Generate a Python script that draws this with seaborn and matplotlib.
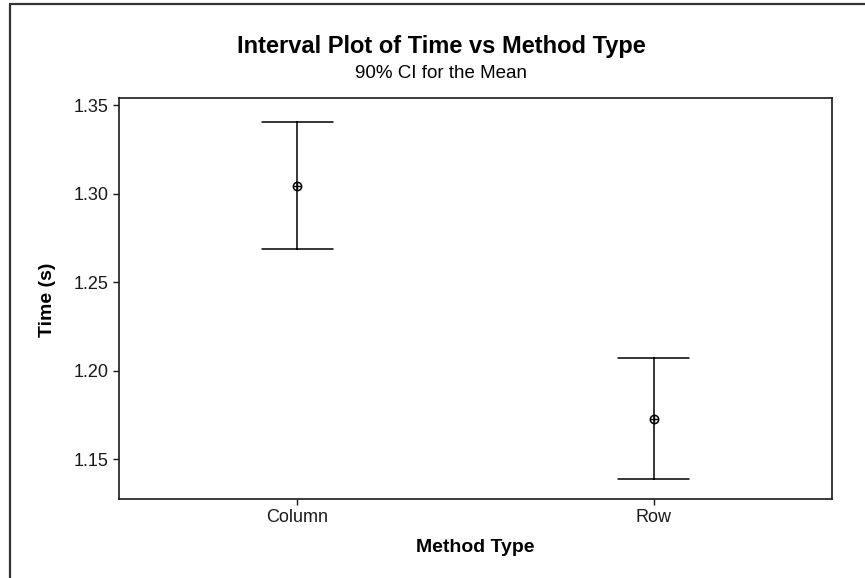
import matplotlib
matplotlib.use("Agg")
import matplotlib.pyplot as plt
from matplotlib.lines import Line2D
import seaborn as sns
import pandas as pd

# ---- data ----
methods = ["Column", "Row"]
means = [1.3045, 1.1725]
ci_lower = [1.2685, 1.1385]
ci_upper = [1.3405, 1.2070]
yticks = [1.15, 1.20, 1.25, 1.30, 1.35]

title = "Interval Plot of Time vs Method Type"
subtitle = "90% CI for the Mean"
xlabel = "Method Type"
ylabel = "Time (s)"

# long-form table: lower bound, mean, upper bound for each group
rows = []
for m, lo, mu, hi in zip(methods, ci_lower, means, ci_upper):
    for v in (lo, mu, hi):
        rows.append({"Method Type": m, "Time": v})
df = pd.DataFrame(rows)

sns.set_theme(style="white")
plt.rcParams["font.family"] = ["Liberation Sans", "DejaVu Sans"]

W, H = 865, 578
fig = plt.figure(figsize=(W / 100, H / 100), dpi=100)
fig.patch.set_facecolor("white")

left, right, top, bottom = 119, 832, 98, 499
ax = fig.add_axes([left / W, 1 - bottom / H, (right - left) / W, (bottom - top) / H])

# median of (lo, mean, hi) = mean ; 100% percentile interval = [lo, hi]
sns.pointplot(
    data=df, x="Method Type", y="Time", ax=ax,
    estimator="median", errorbar=("pi", 100),
    capsize=0.2, color="black", linestyle="none",
    marker="o", markersize=6, markerfacecolor="none",
    markeredgewidth=1.1,
    err_kws={"linewidth": 1.1},
)
sns.scatterplot(x=methods, y=means, ax=ax, marker="+", s=34,
                color="black", linewidth=1.0, zorder=5)

ax.set_xlim(-0.5, 1.5)
ax.set_ylim(1.1274, 1.354)
ax.set_yticks(yticks)
ax.set_yticklabels([f"{t:.2f}" for t in yticks])
ax.set_xlabel("")
ax.set_ylabel("")

for sp in ax.spines.values():
    sp.set_visible(True)
    sp.set_color("#1a1a1a")
    sp.set_linewidth(1.2)

ax.tick_params(axis="both", which="both", direction="out", length=4.5,
               width=1.0, color="#1a1a1a", labelsize=13, labelcolor="#1a1a1a",
               left=True, bottom=True)
ax.tick_params(axis="y", pad=3)
ax.tick_params(axis="x", pad=3)

# titles and labels
fig.text(441 / W, 1 - 46 / H, title, ha="center", va="center",
         fontsize=17, fontweight="bold", color="black")
fig.text(441 / W, 1 - 73.5 / H, subtitle, ha="center", va="center",
         fontsize=13.5, color="black")
fig.text(475.5 / W, 1 - 547 / H, xlabel, ha="center", va="center",
         fontsize=14, fontweight="bold", color="black")
fig.text(47 / W, 1 - 300 / H, ylabel, ha="center", va="center",
         rotation=90, fontsize=14, fontweight="bold", color="black")

# outer frame (top and left edges of the graph window)
fig.add_artist(Line2D([10 / W, 1.0], [1 - 3.5 / H, 1 - 3.5 / H],
                      transform=fig.transFigure, color="#333333", linewidth=1.6))
fig.add_artist(Line2D([10 / W, 10 / W], [0.0, 1 - 3.5 / H],
                      transform=fig.transFigure, color="#333333", linewidth=1.6))

fig.savefig("out.png", dpi=100, facecolor="white")
